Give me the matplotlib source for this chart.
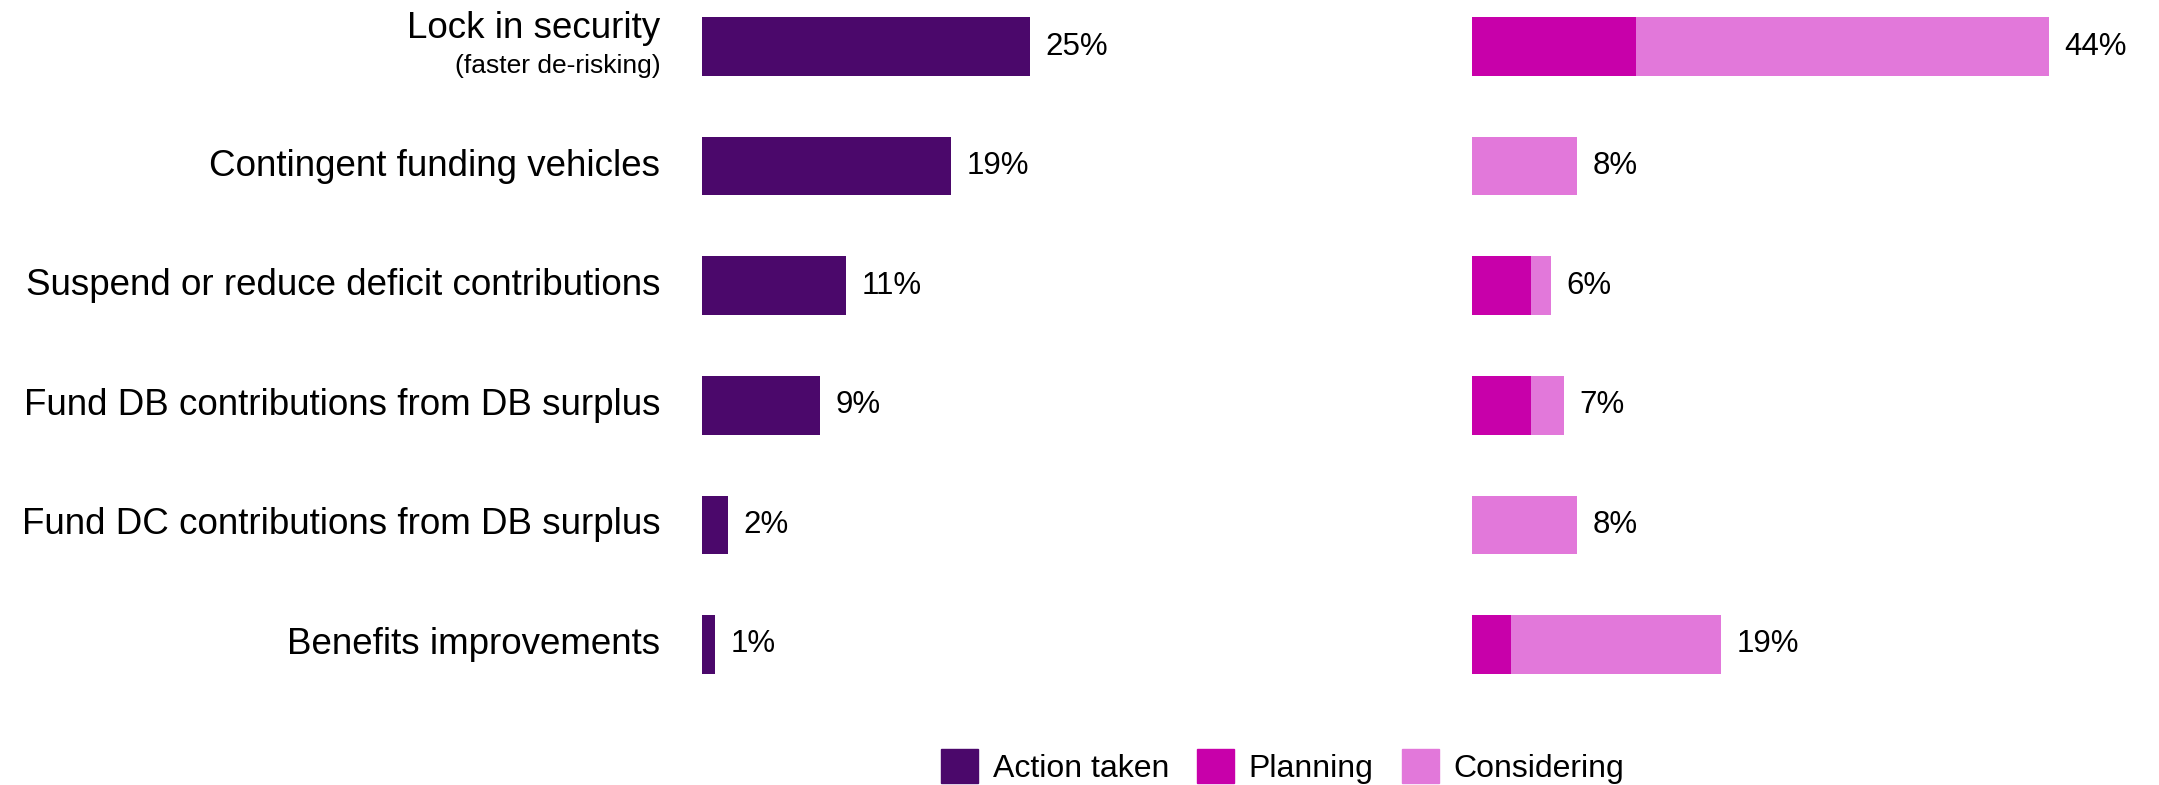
import numpy as np
import matplotlib.pyplot as plt
from matplotlib.patches import Patch

plt.rcParams['font.family'] = ['Liberation Sans', 'DejaVu Sans']

# data
categories = [
    'Lock in security',
    'Contingent funding vehicles',
    'Suspend or reduce deficit contributions',
    'Fund DB contributions from DB surplus',
    'Fund DC contributions from DB surplus',
    'Benefits improvements',
]
action_taken = [25, 19, 11, 9, 2, 1]
planning = [12.5, 0, 4.5, 4.5, 0, 3]
considering = [31.5, 8, 1.5, 2.5, 8, 16]

c_action = '#4B086B'
c_plan = '#C800AA'
c_consider = '#E278DA'

W, H = 2159, 785
fig = plt.figure(figsize=(W / 100, H / 100), dpi=100)

px_per_pct = 13.12
y = np.arange(len(categories))
bar_h = 0.49
ylim = (5.6, -0.39)
bottom = 0.0876
height = 1 - bottom


def make_axes(x0_px, width_px):
    ax = fig.add_axes([x0_px / W, bottom, width_px / W, height])
    ax.set_xlim(0, width_px / px_per_pct)
    ax.set_ylim(*ylim)
    ax.axis('off')
    return ax


def label_bars(ax, totals):
    for yi, v in zip(y, totals):
        ax.annotate(f'{v:.0f}%', xy=(v, yi), xytext=(11, 0),
                    textcoords='offset points', va='center', ha='left',
                    fontsize=22.5, color='black')


# left panel: action taken
ax1 = make_axes(702, 700)
ax1.barh(y, action_taken, height=bar_h, color=c_action)
label_bars(ax1, action_taken)

# right panel: planning + considering stacked
ax2 = make_axes(1472, W - 1472)
ax2.barh(y, planning, height=bar_h, color=c_plan)
ax2.barh(y, considering, left=planning, height=bar_h, color=c_consider)
totals = np.array(planning) + np.array(considering)
label_bars(ax2, totals)

# category labels
for yi, cat in zip(y, categories):
    if yi == 0:
        ax1.annotate(cat, xy=(0, yi), xytext=(-30, 13), textcoords='offset points',
                     ha='right', va='center', fontsize=26.5)
        ax1.annotate('(faster de-risking)', xy=(0, yi), xytext=(-30, -14),
                     textcoords='offset points', ha='right', va='center', fontsize=19)
    else:
        ax1.annotate(cat, xy=(0, yi), xytext=(-30, 0), textcoords='offset points',
                     ha='right', va='center', fontsize=26.5)

handles = [Patch(color=c_action, label='Action taken'),
           Patch(color=c_plan, label='Planning'),
           Patch(color=c_consider, label='Considering')]
fig.legend(handles=handles, loc='center', bbox_to_anchor=(0.594, 0.024), ncol=3,
           frameon=False, fontsize=23, handlelength=1.16, handleheight=1.3,
           handletextpad=0.47, columnspacing=0.87, borderpad=0)

fig.savefig('out.png', dpi=100)
